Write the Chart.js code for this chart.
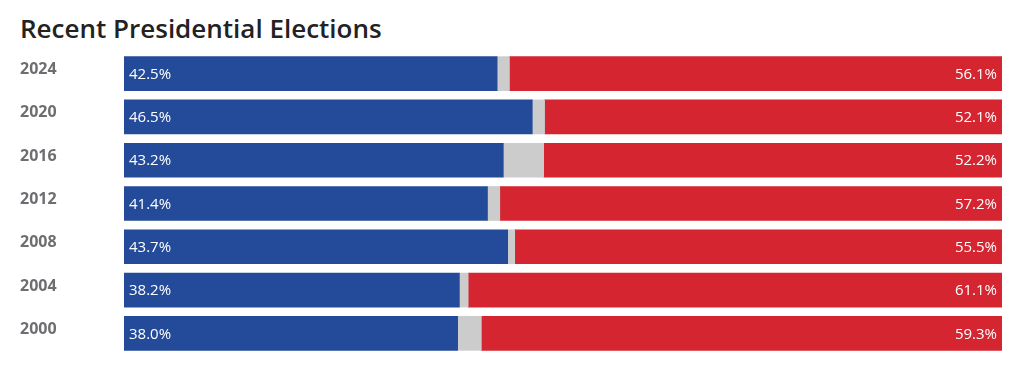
<!DOCTYPE html>
<html>
<head>
<meta charset="utf-8">
<script src="https://cdn.jsdelivr.net/npm/chart.js@4"></script>
<style>
    body { margin: 0; background: #fff; }
    #wrap { position: relative; width: 1020px; height: 366px; }
    h2 {
        position: absolute; left: 20px; top: 10px; margin: 0;
        font-family: "Open Sans", sans-serif; font-weight: 600; font-size: 26px;
        color: #222;
    }
    canvas { position: absolute; left: 0; top: 0; }
</style>
</head>
<body>
<div id="wrap">
    <h2>Recent Presidential Elections</h2>
    <canvas id="elections-chart" width="1020" height="366"></canvas>
</div>
<script>
// Election results (percent of vote)
const years = ['2024', '2020', '2016', '2012', '2008', '2004', '2000'];
const demShare = [42.5, 46.5, 43.2, 41.4, 43.7, 38.2, 38.0];
const otherShare = [1.4, 1.4, 4.6, 1.4, 0.8, 1.0, 2.7];
const repShare = [56.1, 52.1, 52.2, 57.2, 55.5, 61.1, 59.3];

const BLUE = '#244b99';
const GREY = '#cccccc';
const RED = '#d42531';

// Write the percentages inside the blue and red segments
const barLabels = {
    id: 'barLabels',
    afterDatasetsDraw(chart) {
        const ctx = chart.ctx;
        const area = chart.chartArea;
        ctx.save();
        ctx.fillStyle = '#ffffff';
        ctx.font = '15px "Open Sans", sans-serif';
        ctx.textBaseline = 'middle';

        chart.getDatasetMeta(0).data.forEach((bar, i) => {
            ctx.textAlign = 'left';
            ctx.fillText(demShare[i].toFixed(1) + '%', bar.base + 5, bar.y + 1);
        });
        chart.getDatasetMeta(2).data.forEach((bar, i) => {
            ctx.textAlign = 'right';
            ctx.fillText(repShare[i].toFixed(1) + '%', Math.min(bar.x, area.right) - 5, bar.y + 1);
        });
        ctx.restore();
    }
};

new Chart(document.getElementById('elections-chart'), {
    type: 'bar',
    data: {
        labels: years,
        datasets: [
            { label: 'Democrat', data: demShare, backgroundColor: BLUE },
            { label: 'Other', data: otherShare, backgroundColor: GREY },
            { label: 'Republican', data: repShare, backgroundColor: RED }
        ]
    },
    options: {
        responsive: false,
        animation: false,
        indexAxis: 'y',
        layout: {
            padding: { left: 20, right: 18, top: 52, bottom: 11 }
        },
        datasets: {
            bar: { barThickness: 34, borderWidth: 0 }
        },
        plugins: {
            legend: { display: false },
            tooltip: { enabled: false }
        },
        scales: {
            x: {
                stacked: true,
                min: 0,
                max: 100,
                display: false
            },
            y: {
                stacked: true,
                grid: { display: false, drawTicks: false },
                border: { display: false },
                afterFit(scale) { scale.width = 104; },
                ticks: {
                    crossAlign: 'far',
                    padding: 0,
                    labelOffset: -4,
                    color: '#6d6e71',
                    font: { family: '"Open Sans", sans-serif', size: 16, weight: 'bold' }
                }
            }
        }
    },
    plugins: [barLabels]
});
</script>
</body>
</html>
